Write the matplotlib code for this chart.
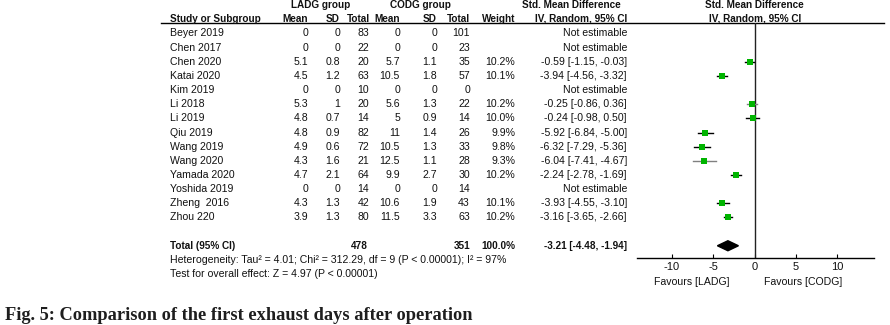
import numpy as np
import matplotlib.pyplot as plt

# study level data
studies = ['Beyer 2019', 'Chen 2017', 'Chen 2020', 'Katai 2020', 'Kim 2019',
           'Li 2018', 'Li 2019', 'Qiu 2019', 'Wang 2019', 'Wang 2020',
           'Yamada 2020', 'Yoshida 2019', 'Zheng  2016', 'Zhou 220']
ladg_mean = ['0', '0', '5.1', '4.5', '0', '5.3', '4.8', '4.8', '4.9', '4.3', '4.7', '0', '4.3', '3.9']
ladg_sd = ['0', '0', '0.8', '1.2', '0', '1', '0.7', '0.9', '0.6', '1.6', '2.1', '0', '1.3', '1.3']
ladg_n = [83, 22, 20, 63, 10, 20, 14, 82, 72, 21, 64, 14, 42, 80]
codg_mean = ['0', '0', '5.7', '10.5', '0', '5.6', '5', '11', '10.5', '12.5', '9.9', '0', '10.6', '11.5']
codg_sd = ['0', '0', '1.1', '1.8', '0', '1.3', '0.9', '1.4', '1.3', '1.1', '2.7', '0', '1.9', '3.3']
codg_n = [101, 23, 35, 57, 0, 22, 14, 26, 33, 28, 30, 14, 43, 63]
weight = [np.nan, np.nan, 10.2, 10.1, np.nan, 10.2, 10.0, 9.9, 9.8, 9.3, 10.2, np.nan, 10.1, 10.2]
smd = [np.nan, np.nan, -0.59, -3.94, np.nan, -0.25, -0.24, -5.92, -6.32, -6.04, -2.24, np.nan, -3.93, -3.16]
ci_lo = [np.nan, np.nan, -1.15, -4.56, np.nan, -0.86, -0.98, -6.84, -7.29, -7.41, -2.78, np.nan, -4.55, -3.65]
ci_hi = [np.nan, np.nan, -0.03, -3.32, np.nan, 0.36, 0.50, -5.00, -5.36, -4.67, -1.69, np.nan, -3.10, -2.66]
grey_line = ['Li 2018', 'Wang 2020']

total_ladg = 478
total_codg = 351
total_weight = '100.0%'
pooled = -3.21
pooled_lo = -4.48
pooled_hi = -1.94
xticks = [-10, -5, 0, 5, 10]

heterogeneity = 'Heterogeneity: Tau\u00b2 = 4.01; Chi\u00b2 = 312.29, df = 9 (P < 0.00001); I\u00b2 = 97%'
overall = 'Test for overall effect: Z = 4.97 (P < 0.00001)'
caption = 'Fig. 5: Comparison of the first exhaust days after operation'

plt.rcParams['font.family'] = ['Liberation Sans', 'DejaVu Sans']
fs = 7.6
fsb = 7.2
tc = '#111111'

W, H = 890, 325
fig = plt.figure(figsize=(W / 100, H / 100), dpi=100)

# text table drawn in pixel space
tab = fig.add_axes([0, 0, 1, 1])
tab.set_xlim(0, W)
tab.set_ylim(H, 0)
tab.axis('off')

row0, dy = 33.5, 14.15


def rowy(i):
    return row0 + dy * i


def txt(x, y, s, ha='right', bold=False, **kw):
    tab.text(x, y, s, ha=ha, va='center', fontsize=fsb if bold else fs, color=tc,
             fontweight='bold' if bold else 'normal', **kw)


# headers
txt(321, 5, 'LADG group', ha='center', bold=True)
txt(420, 5, 'CODG group', ha='center', bold=True)
txt(571, 5, 'Std. Mean Difference', ha='center', bold=True)
txt(754, 5, 'Std. Mean Difference', ha='center', bold=True)
hy = 18.5
txt(170, hy, 'Study or Subgroup', ha='left', bold=True)
for x, s in zip([308, 340, 370, 400, 437, 470], ['Mean', 'SD', 'Total', 'Mean', 'SD', 'Total']):
    txt(x, hy, s, bold=True)
txt(515, hy, 'Weight', bold=True)
txt(627, hy, 'IV, Random, 95% CI', bold=True)
txt(755, hy, 'IV, Random, 95% CI', ha='center', bold=True)
tab.plot([161, 884], [23.3, 23.3], color='black', lw=1)

for i, name in enumerate(studies):
    y = rowy(i)
    txt(170, y, name, ha='left')
    txt(308, y, ladg_mean[i])
    txt(340, y, ladg_sd[i])
    txt(369, y, str(ladg_n[i]))
    txt(400, y, codg_mean[i])
    txt(437, y, codg_sd[i])
    txt(470, y, str(codg_n[i]))
    if np.isnan(smd[i]):
        txt(627, y, 'Not estimable')
    else:
        txt(515, y, '%.1f%%' % weight[i])
        txt(627, y, '%.2f [%.2f, %.2f]' % (smd[i], ci_lo[i], ci_hi[i]))

ty = rowy(15)
txt(170, ty, 'Total (95% CI)', ha='left', bold=True)
txt(368, ty, str(total_ladg), bold=True)
txt(470, ty, str(total_codg), bold=True)
txt(515, ty, total_weight, bold=True)
txt(627, ty, '%.2f [%.2f, %.2f]' % (pooled, pooled_lo, pooled_hi), bold=True)
txt(170, rowy(16), heterogeneity, ha='left')
txt(170, rowy(17), overall, ha='left')

txt(692, 282, 'Favours [LADG]', ha='center')
txt(803, 282, 'Favours [CODG]', ha='center')

tab.text(5, 320, caption, ha='left', va='baseline', fontsize=13.2,
         fontweight='bold', family=['Liberation Serif', 'DejaVu Serif'], color='#1e1e1e')

# forest plot panel
x0, x1 = 637, 874
ytop, ybot = 23.3, 258.3
ax = fig.add_axes([x0 / W, (H - ybot) / H, (x1 - x0) / W, (ybot - ytop) / H])
ax.patch.set_alpha(0)
zero_px, px_unit = 754.5, 8.28
ax.set_xlim((x0 - zero_px) / px_unit, (x1 - zero_px) / px_unit)
ax.set_ylim((ybot - row0) / dy, (ytop - row0) / dy)
for s in ['top', 'left', 'right']:
    ax.spines[s].set_visible(False)
ax.spines['bottom'].set_linewidth(1)
ax.set_yticks([])
ax.set_xticks(xticks)
ax.set_xticklabels([str(t) for t in xticks])
ax.tick_params(axis='x', direction='in', length=3, width=0.8, pad=3,
               labelsize=fs + 0.4, labelcolor=tc)
ax.axvline(0, color='#222222', lw=1)

for i, name in enumerate(studies):
    if np.isnan(smd[i]):
        continue
    lc = '#808080' if name in grey_line else 'black'
    ax.plot([ci_lo[i], ci_hi[i]], [i, i], color=lc, lw=1)
    ax.plot(smd[i], i, marker='s', color='#00b400', markersize=3.8 * np.sqrt(weight[i] / 10),
            markeredgewidth=0)

hd = 5 / dy
ax.fill([pooled_lo, pooled, pooled_hi, pooled], [15, 15 - hd, 15, 15 + hd], color='black')

fig.savefig('out.png', dpi=100)
